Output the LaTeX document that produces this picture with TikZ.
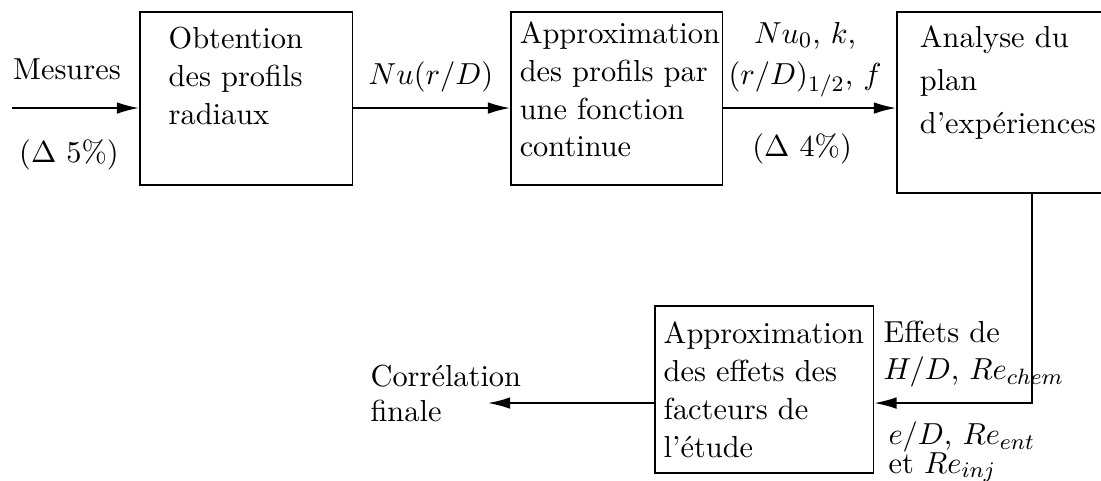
\documentclass[tikz,border=0pt,11pt]{standalone}
\usepackage{amsmath}
\usetikzlibrary{arrows.meta}
\tikzset{
  bloc/.style={draw, line width=0.6pt, anchor=north west, align=left,
               inner ysep=0pt, inner xsep=3.2pt},
  etiq/.style={inner sep=0pt, align=left},
  fleche/.style={-{Latex[length=8pt, width=4.2pt]}, line width=0.6pt},
}

\begin{document}
\begin{tikzpicture}
  \useasboundingbox (0,0) rectangle (13.943,-6.079);
  % blocs
  \node[bloc, text width=55.8pt, inner xsep=10.4pt, text height=13.3pt, text depth=49pt]
    (obt) at (1.760,-0.139) {Obtention\\des profils\\radiaux};
  \node[bloc, text width=69.9pt, text height=11.5pt, text depth=50.8pt]
    (appr) at (6.459,-0.139) {Approximation\\des profils par\\une fonction\\continue};
  \node[bloc, text width=60.5pt, inner xsep=8.3pt, text height=13pt, text depth=52.2pt]
    (ana) at (11.347,-0.139) {Analyse du\\[1.9pt]plan\\[1.9pt]d'expériences};
  \node[bloc, text width=72.4pt, text height=13.7pt, text depth=46.5pt]
    (fact) at (8.282,-3.863) {Approximation\\des effets des\\facteurs de\\l'étude};
  % textes (base = derniere ligne)
  \node[etiq, anchor=base] (mes) at (0.848,-1.013) {Mesures};
  \node[etiq, anchor=base] (inc1) at (0.874,-2.064) {($\Delta$ 5\%)};
  \node[etiq, anchor=base] (nu) at (5.458,-1.076) {$Nu(r/D)$};
  \node[etiq, anchor=base, align=center] (param) at (10.195,-1.076)
    {$Nu_0$, $k$,\\[1.5pt]$(r/D)_{1/2}$, $f$};
  \node[etiq, anchor=base] (inc2) at (10.157,-1.988) {($\Delta$ 4\%)};
  \node[etiq, anchor=base west] (eff1) at (11.182,-4.812) {Effets de\\$H/D$, $Re_{chem}$};
  \node[etiq, anchor=base west] (eff2) at (11.246,-5.990) {$e/D$, $Re_{ent}$\\[-3.5pt]et $Re_{inj}$};
  \node[etiq, anchor=base west] (corr) at (4.686,-5.332) {Corrélation\\[-1.3pt]finale};
  % fleches
  \coordinate (entree) at (0.152,-1.368);
  \coordinate (coin) at (13.069,-5.104);
  \coordinate (sortie) at (6.180,-5.104);
  \draw[fleche] (entree) -- (entree -| obt.west);
  \draw[fleche] (entree -| obt.east) -- (entree -| appr.west);
  \draw[fleche] (entree -| appr.east) -- (entree -| ana.west);
  \draw[fleche] (ana.south -| coin) -- (coin) -- (coin -| fact.east);
  \draw[fleche] (coin -| fact.west) -- (sortie);
\end{tikzpicture}
\end{document}
